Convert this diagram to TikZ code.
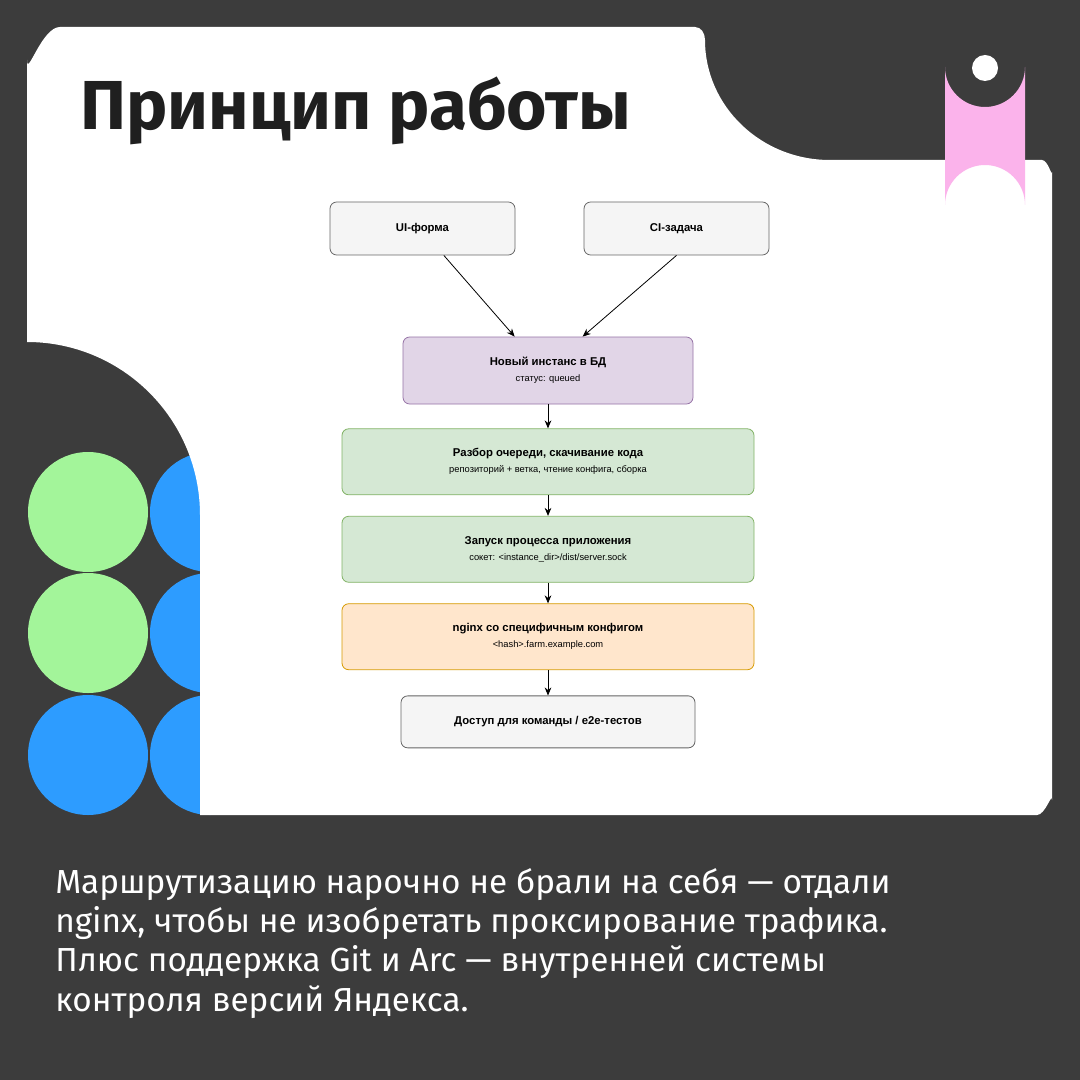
\documentclass[tikz,border=0pt]{standalone}
\usepackage{fontspec}
\setmainfont{Fira Sans}
\newfontfamily\boxfont{Liberation Sans}
\usetikzlibrary{positioning,arrows.meta}
\definecolor{bgdark}{HTML}{3C3C3C}
\definecolor{leafgreen}{HTML}{A3F59A}
\definecolor{skyblue}{HTML}{2D9CFF}
\definecolor{pillpink}{HTML}{FBB3EB}
\begin{document}
\begin{tikzpicture}[x=0.75pt,y=-0.75pt,
  stepbox/.style={draw, rounded corners=5pt, line width=0.6pt, align=center,
    font=\boxfont\fontsize{8.5}{11}\selectfont, inner sep=2pt},
  greybox/.style={stepbox, fill=black!4, draw=black!60, minimum width=138.75pt, minimum height=39.75pt},
  purplebox/.style={stepbox, fill={rgb,255:red,225;green,213;blue,231}, draw={rgb,255:red,150;green,115;blue,166}, minimum width=217.5pt, minimum height=50.25pt},
  greenbox/.style={stepbox, fill={rgb,255:red,213;green,232;blue,212}, draw={rgb,255:red,130;green,179;blue,102}, minimum width=309pt, minimum height=49.5pt},
  orangebox/.style={stepbox, fill={rgb,255:red,255;green,230;blue,204}, draw={rgb,255:red,215;green,155;blue,0}, minimum width=309pt, minimum height=49.5pt},
  arr/.style={-{Stealth[length=6pt,width=5pt]}, line width=0.6pt}]
  \def\r{60}   % dot radius
  \fill[bgdark] (0,0) rectangle (1080,1080);
  % dots behind the card
  \foreach \x/\y/\c in {88/512/leafgreen, 88/633/leafgreen, 88/755/skyblue,
                        210/512/skyblue, 210/633/skyblue, 210/755/skyblue}
    { \fill[\c] (\x,\y) circle (\r); }
  % white card
  \fill[white] (60,27) -- (695,27) to[out=0,in=90] (705,40)
    arc[start angle=180, end angle=270, x radius=125, y radius=-120]
    -- (1042,160) to[out=0,in=-90] (1052,172) -- (1052,800) to[out=90,in=0] (1037,815)
    -- (200,815) -- (200,515)
    arc[start angle=0, end angle=90, radius=173, y radius=-173]
    -- (27,60) to[out=-90,in=180] (60,27) -- cycle;
  % pink clip
  \fill[pillpink] (945,67) arc[start angle=180, end angle=360, radius=40, y radius=-40]
    -- (1025,205) arc[start angle=0, end angle=180, radius=40, y radius=-40] -- cycle;
  \foreach \y in {68,205} { \fill[white] (985,\y) circle (13); }
  \node[anchor=base west, inner sep=0, font=\fontsize{52}{52}\selectfont\bfseries, text=black!88]
    (title) at (80,130) {Принцип работы};
  % diagram
  \node[greybox] (ui) at (422.5,228.5) {\textbf{UI-форма}};
  \node[greybox] (ci) at (676.5,228.5) {\textbf{CI-задача}};
  \node[purplebox] (new) at (548,370.5)
    {\textbf{Новый инстанс в БД}\\[1pt]{\fontsize{7}{9}\selectfont статус: queued}};
  \node[greenbox, below=18pt of new] (parse)
    {\textbf{Разбор очереди, скачивание кода}\\[1pt]{\fontsize{7}{9}\selectfont репозиторий + ветка, чтение конфига, сборка}};
  \node[greenbox, below=15.5pt of parse] (run)
    {\textbf{Запуск процесса приложения}\\[1pt]{\fontsize{7}{9}\selectfont сокет: <instance\_dir>/dist/server.sock}};
  \node[orangebox, below=15.5pt of run] (nginx)
    {\textbf{nginx со специфичным конфигом}\\[1pt]{\fontsize{7}{9}\selectfont <hash>.farm.example.com}};
  \node[greybox, minimum width=220.5pt, minimum height=39pt, below=19pt of nginx] (team)
    {\textbf{Доступ для команды / e2e-тестов}};
  \draw[arr] ([xshift=16pt]ui.south) -- ([xshift=-25pt]new.north);
  \draw[arr] (ci.south) -- ([xshift=26pt]new.north);
  \foreach \a/\b in {new/parse, parse/run, run/nginx, nginx/team}
    { \draw[arr] (\a) -- (\b); }
  % caption
  \node[anchor=north west, inner sep=0, align=left, text=white,
    font=\fontsize{25}{29.5}\selectfont] (caption) at (55,868)
    {Маршрутизацию нарочно не брали на себя — отдали\\
     nginx, чтобы не изобретать проксирование трафика.\\
     Плюс поддержка Git и Arc — внутренней системы\\
     контроля версий Яндекса.};
\end{tikzpicture}
\end{document}
